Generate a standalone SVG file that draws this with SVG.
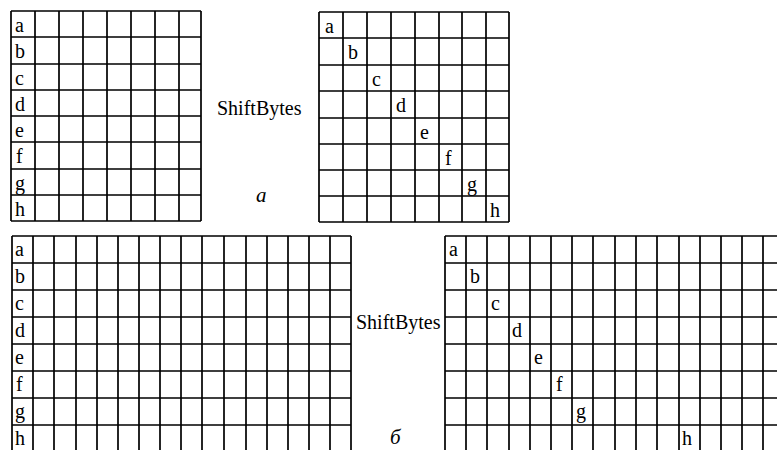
<svg xmlns="http://www.w3.org/2000/svg" width="777" height="450" viewBox="0 0 777 450">
<style>
.g{fill:none;stroke:#000;stroke-width:1.7}
.t{font-family:'Liberation Serif','Times New Roman',serif;font-size:20px;fill:#000}
.i{font-family:'Liberation Serif','Times New Roman',serif;font-size:21px;font-style:italic;fill:#000}
</style>
<rect width="777" height="450" fill="#fff"/>
<g id="grid-a-left">
<path class="g" d="M11 11V221M35 11V221M59 11V221M83 11V221M107 11V221M131 11V221M155 11V221M179 11V221M201 11V221M11 11H201M11 37H201M11 64H201M11 90H201M11 116H201M11 142H201M11 169H201M11 195H201M11 221H201"/>
<text class="t" x="15" y="32">a</text>
<text class="t" x="15" y="58">b</text>
<text class="t" x="15" y="85">c</text>
<text class="t" x="15" y="111">d</text>
<text class="t" x="15" y="137">e</text>
<text class="t" x="16" y="163">f</text>
<text class="t" x="15" y="190">g</text>
<text class="t" x="15" y="216">h</text>
</g>
<g id="grid-a-right">
<path class="g" d="M319 12V222M343 12V222M367 12V222M391 12V222M415 12V222M439 12V222M462 12V222M486 12V222M509 12V222M319 12H509M319 38H509M319 65H509M319 91H509M319 118H509M319 144H509M319 170H509M319 196H509M319 222H509"/>
<text class="t" x="325" y="33">a</text>
<text class="t" x="348" y="59">b</text>
<text class="t" x="372" y="86">c</text>
<text class="t" x="396" y="112">d</text>
<text class="t" x="420" y="139">e</text>
<text class="t" x="445" y="165">f</text>
<text class="t" x="467" y="191">g</text>
<text class="t" x="490" y="217">h</text>
</g>
<g id="grid-b-left">
<path class="g" d="M12 236V450M33 236V450M54 236V450M76 236V450M97 236V450M118 236V450M139 236V450M160 236V450M181 236V450M202 236V450M224 236V450M246 236V450M267 236V450M288 236V450M309 236V450M330 236V450M351 236V450M12 236H351M12 263H351M12 290H351M12 317H351M12 344H351M12 371H351M12 398H351M12 425H351"/>
<text class="t" x="15" y="256">a</text>
<text class="t" x="15" y="283">b</text>
<text class="t" x="15" y="310">c</text>
<text class="t" x="15" y="337">d</text>
<text class="t" x="15" y="364">e</text>
<text class="t" x="16" y="391">f</text>
<text class="t" x="15" y="418">g</text>
<text class="t" x="15" y="445">h</text>
</g>
<g id="grid-b-right">
<path class="g" d="M445 236V450M466 236V450M487 236V450M509 236V450M530 236V450M551 236V450M572 236V450M593 236V450M615 236V450M636 236V450M657 236V450M679 236V450M700 236V450M721 236V450M742 236V450M763 236V450M445 236H777M445 263H777M445 290H777M445 317H777M445 344H777M445 371H777M445 398H777M445 425H777"/>
<text class="t" x="449" y="256">a</text>
<text class="t" x="470" y="283">b</text>
<text class="t" x="491" y="310">c</text>
<text class="t" x="512" y="337">d</text>
<text class="t" x="534" y="364">e</text>
<text class="t" x="556" y="391">f</text>
<text class="t" x="576" y="418">g</text>
<text class="t" x="682" y="445">h</text>
</g>
<g id="labels">
<text class="t" x="217" y="115">ShiftBytes</text>
<text class="i" x="256" y="202">а</text>
<text class="t" x="356" y="329">ShiftBytes</text>
<text class="i" x="390" y="444">б</text>
</g>
</svg>
